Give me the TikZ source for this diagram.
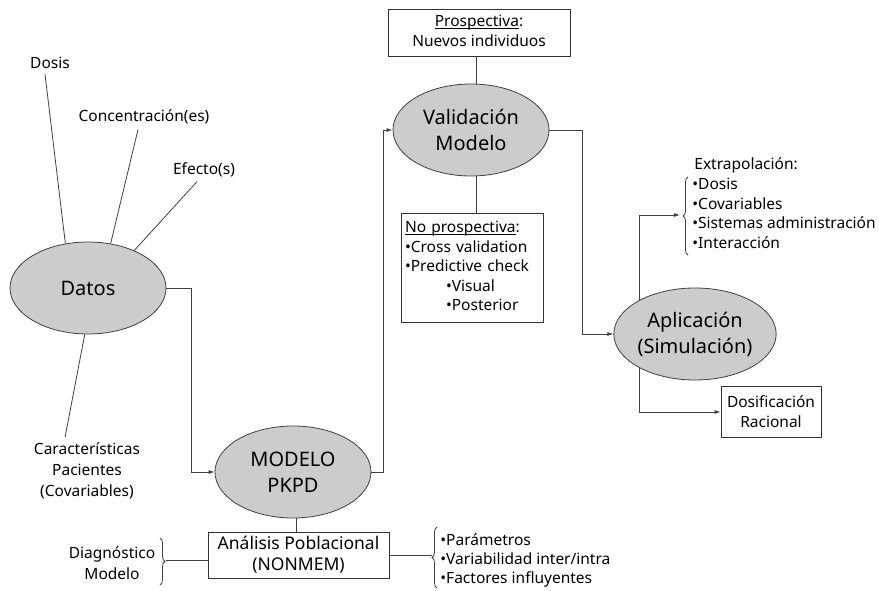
\documentclass[tikz,border=0pt]{standalone}
\usepackage{fontspec}
\setmainfont{Noto Sans}
\usetikzlibrary{shapes.geometric,arrows.meta,decorations.pathreplacing}

% subrayado pegado a la linea base
\newcommand{\subrayado}[1]{\underline{\smash{#1}}}

\tikzset{
  etapa/.style={ellipse,draw=black!75,fill=black!20,minimum width=156pt,minimum height=92pt,
    inner sep=0pt,align=center,font=\fontsize{20}{26}\selectfont},
  caja/.style={rectangle,draw=black!80,inner sep=0pt,align=center,font=\fontsize{15.5}{20}\selectfont},
  rotulo/.style={inner sep=0pt,align=center,font=\fontsize{15.5}{21}\selectfont},
  flecha/.style={-{Latex[length=6pt,width=4pt]}},
  llave/.style={decorate,decoration={brace,amplitude=5pt}}
}

\begin{document}
\begin{tikzpicture}[x=1pt,y=-1pt,line width=0.8pt,draw=black!75]
	\useasboundingbox (0,0) rectangle (879,591);
	%etapas
	\node[etapa] (datos) at (88,288) {Datos};
	\node[etapa] (modelo) at (293,472) {MODELO\\PKPD};
	\node[etapa] (valid) at (471,130) {Validación\\Modelo};
	\node[etapa] (aplic) at (695,334) {Aplicación\\(Simulación)};
	%datos de entrada
	\node[rotulo] (dosis) at (50,63) {Dosis};
	\node[rotulo] (conc) at (144,117) {Concentración(es)};
	\node[rotulo] (efecto) at (204,170) {Efecto(s)};
	\node[rotulo] (carac) at (87,471) {Características\\Pacientes\\(Covariables)};
	\draw ([xshift=-5pt,yshift=-5pt]dosis.south) -- (datos.117);
	\draw ([xshift=-6pt,yshift=-5pt]conc.south) -- (datos.63);
	\draw ([xshift=-7pt,yshift=-4pt]efecto.south) -- (datos.39);
	\draw (datos.266) -- ([xshift=-22pt,yshift=5pt]carac.north);
	%validacion
	\node[caja,minimum width=182pt,minimum height=47pt] (prosp) at (479,32.5)
		{\subrayado{Prospectiva}:\\Nuevos individuos};
	\node[caja,align=left,text width=134pt,inner xsep=4pt,minimum height=109pt,
		font=\fontsize{15.5}{19.5}\selectfont] (noprosp) at (472,267.5)
		{\subrayado{No prospectiva}:\\•Cross validation\\•Predictive check\\
		\hspace*{41pt}•Visual\\\hspace*{41pt}•Posterior};
	\draw ([xshift=5pt]valid.north) -- ([xshift=5pt]valid.north |- prosp.south);
	\draw ([xshift=5pt]valid.south) -- ([xshift=5pt]valid.south |- noprosp.north);
	%analisis
	\node[caja,minimum width=181pt,minimum height=46pt,font=\fontsize{17.5}{21}\selectfont]
		(anal) at (298.5,555) {Análisis Poblacional\\(NONMEM)};
	\draw ([xshift=3pt]modelo.south) -- ([xshift=3pt]modelo.south |- anal.north);
	\node[rotulo] (diag) at (112,563.5) {Diagnóstico\\Modelo};
	\draw[llave] (160,538) -- (160,585);
	\coordinate (dtip) at (166,560);
	\draw (dtip) -- (dtip -| anal.west);
	\node[rotulo,align=left,anchor=west,font=\fontsize{15.5}{19}\selectfont] (result) at (440,560)
		{•Parámetros\\•Variabilidad inter/intra\\•Factores influyentes};
	\draw[llave] (437,588) -- (437,527);
	\draw (anal.east) -- (432,555);
	%aplicacion
	\node[rotulo,anchor=west] (extrap) at (694,165) {Extrapolación:};
	\node[rotulo,align=left,anchor=north west,font=\fontsize{15.5}{19.5}\selectfont] (extlist) at (692,178)
		{•Dosis\\•Covariables\\•Sistemas administración\\•Interacción};
	\draw[llave] (688,255) -- (688,177);
	\coordinate (etip) at (680,215);
	\node[caja,minimum width=100pt,minimum height=51pt] (dosif) at (771,412)
		{Dosificación\\Racional};
	%flujo
	\draw[flecha] (datos.east) -- ++(25,0) |- (modelo.west);
	\draw[flecha] (modelo.east) -- ++(12,0) |- (valid.west);
	\draw[flecha] (valid.east) -- ++(33,0) |- (aplic.west);
	\draw[flecha] (aplic.149) |- (etip);
	\draw[flecha] (aplic.211) |- (dosif.west);
\end{tikzpicture}
\end{document}
